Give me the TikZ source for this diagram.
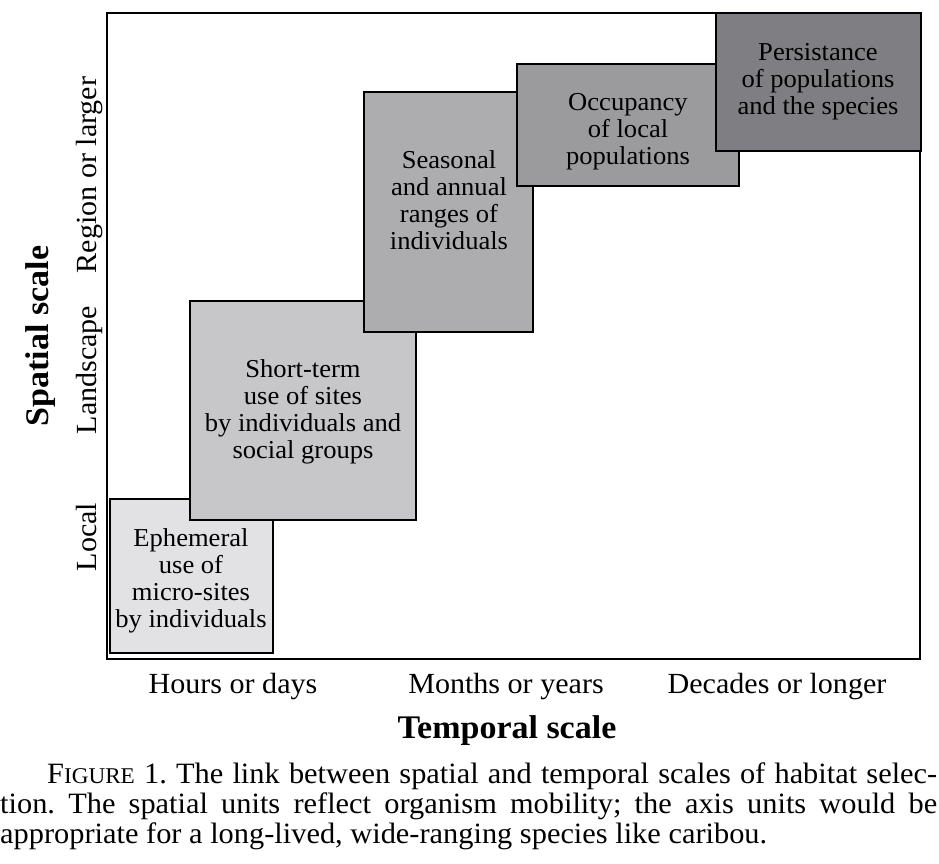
\documentclass[tikz,border=0pt]{standalone}
\usepackage{fontspec}
\setmainfont{Liberation Serif}[FakeStretch=1.03]
\frenchspacing
\begin{document}
\begin{tikzpicture}[x=1pt,y=1pt,
  boxline/.style={draw=black,line width=1.3pt},
  boxtext/.style={align=center,inner sep=0pt,font=\fontsize{25.8}{27}\selectfont},
  ticklabel/.style={inner sep=0pt,font=\fontsize{29.2}{30}\selectfont},
  axistitle/.style={inner sep=0pt,font=\fontsize{33}{34}\selectfont\bfseries},
  capline/.style={inner sep=0pt,anchor=base west,font=\fontsize{29.5}{30}\selectfont\frenchspacing}]
\useasboundingbox (0,0) rectangle (939,-864);
\definecolor{gA}{HTML}{E2E2E4}
\definecolor{gB}{HTML}{C7C7CA}
\definecolor{gC}{HTML}{ADADB0}
\definecolor{gD}{HTML}{9B9B9E}
\definecolor{gE}{HTML}{7F7F83}
% frame
\draw[line width=1.3pt] (107,-13) rectangle (920,-659);
% boxes
\filldraw[boxline,fill=gA] (110,-499) rectangle (273,-653);
\filldraw[boxline,fill=gB] (190,-301) rectangle (416,-520);
\filldraw[boxline,fill=gC] (364,-92) rectangle (533,-332);
\filldraw[boxline,fill=gD] (517,-64) rectangle (739,-186);
\filldraw[boxline,fill=gE] (716,-13) rectangle (921,-151);
% box texts
\node[boxtext] (t1) at (191,-581) {Ephemeral\\use of\\micro-sites\\by individuals};
\node[boxtext] (t2) at (303,-412) {Short-term\\use of sites\\by individuals and\\social groups};
\node[boxtext] (t3) at (449,-200) {Seasonal\\and annual\\ranges of\\individuals};
\node[boxtext] (t4) at (628,-132) {Occupancy\\of local\\populations};
\node[boxtext] (t5) at (818,-82) {Persistance\\of populations\\and the species};
% x tick labels
\node[ticklabel,anchor=base] (xh) at (233,-693) {Hours or days};
\node[ticklabel,anchor=base] (xm) at (506,-693) {Months or years};
\node[ticklabel,anchor=base] (xd) at (777,-693) {Decades or longer};
\node[axistitle,anchor=base] (xt) at (507,-738) {Temporal scale};
% y tick labels
\node[ticklabel,anchor=base,rotate=90] (yl) at (96,-537) {Local};
\node[ticklabel,anchor=base,rotate=90] (yls) at (96,-370) {Landscape};
\node[ticklabel,anchor=base,rotate=90] (yr) at (96,-175) {Region or larger};
\node[axistitle,anchor=base,rotate=90] (yt) at (48,-336) {Spatial scale};
% caption
\node[capline] (c1) at (47,-783) {\makebox[890pt][s]{F{\fontsize{22.5}{24}\selectfont IGURE} 1. The link between spatial and temporal scales of habitat selec-}};
\node[capline] (c2) at (0,-813) {\makebox[937pt][s]{tion. The spatial units reflect organism mobility; the axis units would be}};
\node[capline] (c3) at (0,-843) {appropriate for a long-lived, wide-ranging species like caribou.};
\end{tikzpicture}
\end{document}
